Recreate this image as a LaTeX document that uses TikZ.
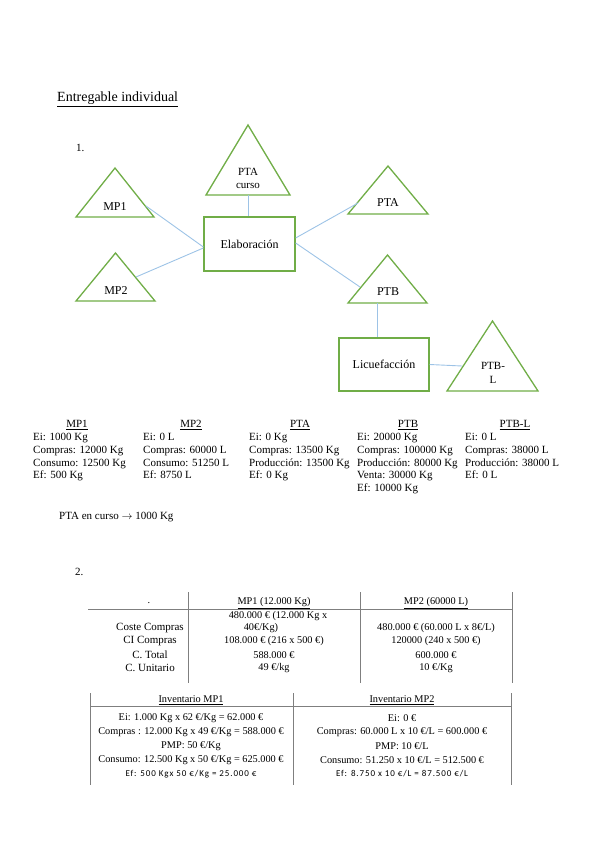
\documentclass[tikz,border=0pt]{standalone}
\usepackage{fontspec}
\setmainfont{Liberation Serif}
\newfontfamily\effont[LetterSpace=10]{Carlito}
\usepackage{tikz}
\usetikzlibrary{calc,positioning}
\definecolor{trigreen}{HTML}{70AD47}
\definecolor{linkblue}{HTML}{9DC3E6}
\definecolor{rulegray}{HTML}{7F7F7F}
\tikzset{
  tri/.style={draw=trigreen, line width=1.3pt, line join=miter},
  trilabel/.style={font=\fontsize{12}{14}\selectfont, inner sep=0pt, align=center},
  procbox/.style={
    draw=trigreen, line width=1.3pt,
    minimum width=91pt, minimum height=54pt,
    font=\fontsize{12}{14}\selectfont, inner sep=2pt
  },
  link/.style={draw=linkblue, line width=0.9pt},
  plaintext/.style={font=\fontsize{11}{13}\selectfont, inner sep=0pt, anchor=west},
  datahead/.style={font=\fontsize{11}{13}\selectfont, inner sep=0pt},
  datacol/.style={
    font=\fontsize{11}{12.8}\selectfont,
    align=left, inner sep=0pt, anchor=north west
  },
  tabrule/.style={draw=rulegray, line width=0.8pt},
  tablabel/.style={font=\fontsize{11}{13}\selectfont, inner sep=0pt},
  tabtext/.style={font=\fontsize{10.3}{12}\selectfont, inner sep=0pt, align=center},
  eftext/.style={font=\effont\fontsize{9}{11}\selectfont, inner sep=0pt}
}
\begin{document}
\begin{tikzpicture}[x=1pt, y=-1pt]
  \useasboundingbox (0,0) rectangle (599,848);

  \node[plaintext, font=\fontsize{14}{16}\selectfont] (title) at (57,99)
    {\underline{Entregable individual}};
  \node[plaintext] (num1) at (76,148) {1.};

  % triangles: apex x / apex y / half base / height
  \foreach \px/\py/\hw/\hh in {115/168/39/49, 115.5/253/39.5/48, 248/125/42/70,
                               388/166/40/48, 387.5/255/39.5/48, 492.5/321/45.5/70}
    \draw[tri] (\px,\py) -- ++(-\hw,\hh) -- ++({2*\hw},0) -- cycle;

  \node[trilabel] (mp1)  at (115,207) {MP1};
  \node[trilabel] (mp2)  at (116,291) {MP2};
  \node[trilabel, font=\fontsize{11}{13}\selectfont] (ptac) at (248,178.5) {PTA\\curso};
  \node[trilabel] (pta)  at (388,203) {PTA};
  \node[trilabel] (ptb)  at (388,292) {PTB};
  \node[trilabel, font=\fontsize{11}{13.5}\selectfont] (ptbl) at (493,373) {PTB-\\L};

  \node[procbox] (elab) at (249.5,244) {Elaboración};
  \node[procbox, minimum width=90pt, minimum height=53pt] (licue) at (384,364.5)
    {Licuefacción};

  \coordinate (mp1r)  at (146,206);
  \coordinate (mp2r)  at (136,277);
  \coordinate (ptacb) at (248,195);
  \coordinate (ptaw)  at (358,203);
  \coordinate (ptbw)  at (360,287);
  \coordinate (ptbb)  at (377,303);
  \coordinate (ptblw) at (462,366);

  \draw[link] (mp1r) -- ($(elab.west)+(0,3)$);
  \draw[link] (mp2r) -- ($(elab.west)+(0,4)$);
  \draw[link] (ptacb) -- (ptacb |- elab.north);
  \draw[link] ($(elab.east)+(0,-6)$) -- (ptaw);
  \draw[link] ($(elab.east)+(0,-1)$) -- (ptbw);
  \draw[link] (ptbb) -- (ptbb |- licue.north);
  \draw[link] (licue.east) -- (ptblw);

  % stock per material
  \node[datahead] (mp1head) at (77,425)  {\underline{MP1}};
  \node[datahead] (mp2head) at (191,425) {\underline{MP2}};
  \node[datahead] (ptahead) at (300,425) {\underline{PTA}};
  \node[datahead] (ptbhead) at (408,425) {\underline{PTB}};
  \node[datahead] (pblhead) at (515,425) {\underline{PTB-L}};

  \node[datacol] (mp1data) at (33,433)
    {Ei: 1000 Kg\\Compras: 12000 Kg\\Consumo: 12500 Kg\\Ef: 500 Kg};
  \node[datacol] (mp2data) at (143,433)
    {Ei: 0 L\\Compras: 60000 L\\Consumo: 51250 L\\Ef: 8750 L};
  \node[datacol] (ptadata) at (249,433)
    {Ei: 0 Kg\\Compras: 13500 Kg\\Producción: 13500 Kg\\Ef: 0 Kg};
  \node[datacol] (ptbdata) at (357,433)
    {Ei: 20000 Kg\\Compras: 100000 Kg\\Producción: 80000 Kg\\Venta: 30000 Kg\\Ef: 10000 Kg};
  \node[datacol] (pbldata) at (465,433)
    {Ei: 0 L\\Compras: 38000 L\\Producción: 38000 L\\Ef: 0 L};

  \node[plaintext] (ptacurso) at (59,517) {PTA en curso $\rightarrow$ 1000 Kg};
  \node[plaintext] (num2) at (75,572) {2.};

  % cost table
  \draw[tabrule] (88,609) -- (512,609);
  \foreach \x in {188,360,512}
    \draw[tabrule] (\x,592) -- (\x,683);

  \node[tabtext] (c0)  at (149,603) {.};
  \node[tabtext] (c1)  at (274,603) {\underline{MP1 (12.000 Kg)}};
  \node[tabtext] (c2)  at (436,603) {\underline{MP2 (60000 L)}};

  \node[tablabel] (r1) at (150,628) {Coste Compras};
  \node[tablabel] (r2) at (150,641) {CI Compras};
  \node[tablabel] (r3) at (150,655) {C. Total};
  \node[tablabel] (r4) at (150,668) {C. Unitario};

  \node[tabtext] (r1a) at (278,616) {480.000 € (12.000 Kg x};
  \node[tabtext] (r1b) at (261,628) {40€/Kg)};
  \node[tabtext] (r2a) at (274,641) {108.000 € (216 x 500 €)};
  \node[tabtext] (r3a) at (274,655) {588.000 €};
  \node[tabtext] (r4a) at (274,668) {49 €/kg};

  \node[tabtext] (r1c) at (436,628) {480.000 € (60.000 L x 8€/L)};
  \node[tabtext] (r2c) at (436,641) {120000 (240 x 500 €)};
  \node[tabtext] (r3c) at (436,655) {600.000 €};
  \node[tabtext] (r4c) at (436,668) {10 €/Kg};

  % inventory table
  \draw[tabrule] (90,706) -- (511,706);
  \foreach \x in {90,293,511}
    \draw[tabrule] (\x,693) -- (\x,785);

  \node[tabtext] (i1) at (191,700) {\underline{Inventario MP1}};
  \node[tabtext] (i2) at (402,700) {\underline{Inventario MP2}};

  \node[tabtext] (i1a) at (191,718) {Ei: 1.000 Kg x 62 €/Kg = 62.000 €};
  \node[tabtext] (i1b) at (191,732) {Compras : 12.000 Kg x 49 €/Kg = 588.000 €};
  \node[tabtext] (i1c) at (191,746) {PMP: 50 €/Kg};
  \node[tabtext] (i1d) at (191,760) {Consumo: 12.500 Kg x 50 €/Kg = 625.000 €};
  \node[eftext]  (i1e) at (191,774) {Ef: 500 Kgx 50 €/Kg = 25.000 €};

  \node[tabtext] (i2a) at (402,718) {Ei: 0 €};
  \node[tabtext] (i2b) at (402,732) {Compras: 60.000 L x 10 €/L = 600.000 €};
  \node[tabtext] (i2c) at (402,746) {PMP: 10 €/L};
  \node[tabtext] (i2d) at (402,760) {Consumo: 51.250 x 10 €/L = 512.500 €};
  \node[eftext]  (i2e) at (402,774) {Ef: 8.750 x 10 €/L = 87.500 €/L};
\end{tikzpicture}
\end{document}
